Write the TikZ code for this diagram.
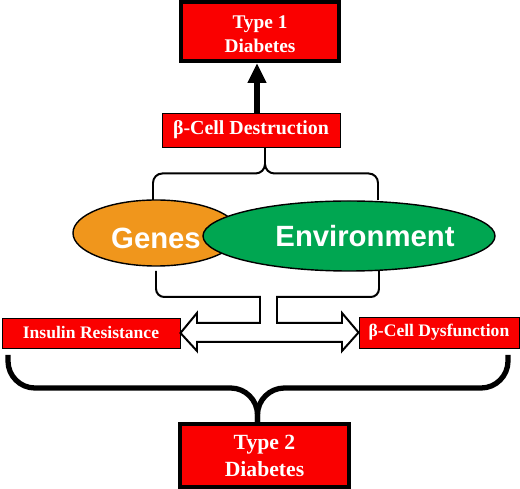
\documentclass[tikz,border=0pt]{standalone}
\usepackage{fontspec}
\setmainfont{Liberation Serif}
\setsansfont{Liberation Sans}
\usetikzlibrary{calc,arrows.meta,shapes.geometric}
\definecolor{boxred}{RGB}{250,0,0}
\definecolor{genesorange}{RGB}{240,150,28}
\definecolor{envgreen}{RGB}{0,166,81}

\begin{document}
\begin{tikzpicture}[x=0.03cm, y=-0.03cm,
	diabetesbox/.style={draw=black, line width=3.4pt, fill=boxred, text=white, align=center, inner sep=0pt},
	causebox/.style={draw=black, line width=0.8pt, fill=boxred, text=white, inner sep=0pt, font=\bfseries\fontsize{15}{17}\selectfont},
	blob/.style={ellipse, draw=black, line width=1.2pt, text=white, inner sep=0pt, font=\sffamily\bfseries\fontsize{25}{30}\selectfont},
	bracket/.style={line width=1.7pt, rounded corners=8},
	bigbracket/.style={line width=4.5pt, rounded corners=23},
	fatarrow/.style={line width=1.7pt, line cap=rect}]
			%%%%% START %%%%%
			
			\useasboundingbox (0, 0) rectangle (520, 489);
			
			\node[diabetesbox, font=\bfseries\fontsize{16.5}{20.5}\selectfont, minimum width=4.75cm, minimum height=1.77cm] (type1) at (260, 31.5)
				{\raisebox{-0.12cm}[\height][\depth]{\begin{tabular}{@{}c@{}}Type 1\\Diabetes\end{tabular}}};
			\node[causebox, font=\bfseries\fontsize{17}{19}\selectfont, minimum width=5.34cm, minimum height=1.02cm] (destruction) at (251, 130) {β-Cell Destruction};
			
			\coordinate (stemtop) at ($(destruction.north)+(6, 0)$);
			\draw[line width=5pt, -{Triangle[width=15pt, length=17pt]}] (stemtop) -- (stemtop |- type1.south);
			
			\coordinate (bracetip) at ($(destruction.south)+(14, 0)$);
			\draw[bracket] (153, 200) |- ($(bracetip)+(0, 26)$) -- (bracetip);
			\draw[bracket] (378, 200) |- ($(bracetip)+(0, 26)$) -- (bracetip);
			
			\node[blob, fill=genesorange, minimum width=4.98cm, minimum height=1.98cm] (genes) at (156, 233) {\raisebox{-0.15cm}[\height][\depth]{Genes}};
			\node[blob, fill=envgreen, minimum width=8.76cm, minimum height=2.1cm] (environment) at (349, 236) {\makebox[0pt]{\hspace*{0.96cm}Environment}};
			
			\node[causebox, minimum width=5.34cm, minimum height=0.9cm] (resistance) at (91, 333) {Insulin Resistance};
			\node[causebox, minimum width=4.8cm, minimum height=0.93cm] (dysfunction) at (439, 332.5) {β-Cell Dysfunction};
			
			\draw[fatarrow, rounded corners=7] (156, 272) |- (260, 297);
			\draw[fatarrow] (260, 297) -- (260, 323);
			\draw[fatarrow, rounded corners=7] (379, 272) |- (277, 297);
			\draw[fatarrow] (277, 297) -- (277, 323);
			\draw[fatarrow] (260, 323) -- (197, 323) -- (197, 313) -- (resistance.east) -- (197, 351) -- (197, 342)
				-- (342, 342) -- (342, 351) -- (dysfunction.west) -- (342, 313) -- (342, 323) -- (277, 323);
			
			\node[diabetesbox, font=\bfseries\fontsize{18.5}{23}\selectfont, minimum width=5.07cm, minimum height=1.89cm] (type2) at (264.5, 455.5) {Type 2\\Diabetes};
			
			\coordinate (bigtip) at ($(type2.north)+(-7, 0)$);
			\draw[bigbracket] (8, 355) |- ($(bigtip)+(0, -34)$) -- (bigtip);
			\draw[bigbracket] (508, 355) |- ($(bigtip)+(0, -34)$) -- (bigtip);
			
			%%%%% END %%%%%
\end{tikzpicture}
\end{document}
